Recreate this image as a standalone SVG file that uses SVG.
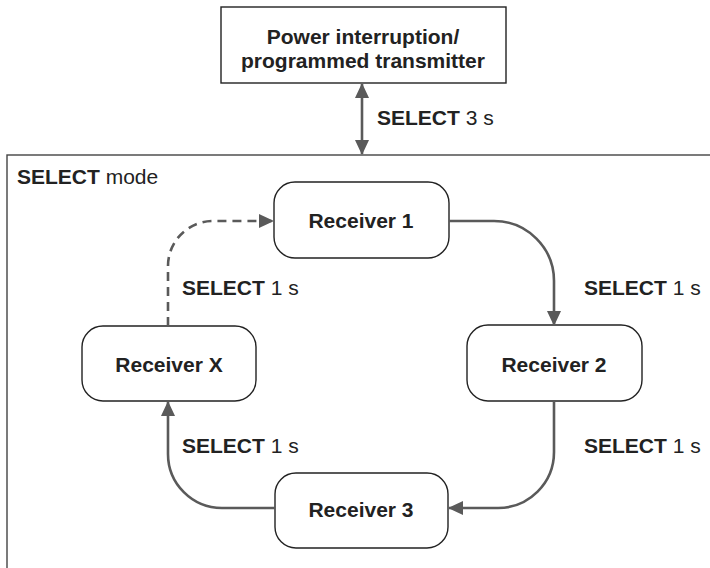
<svg xmlns="http://www.w3.org/2000/svg" width="710" height="568" viewBox="0 0 710 568">
<style>
.node{fill:#fff;stroke:#222;stroke-width:1.4}
.frame{fill:none;stroke:#444;stroke-width:1.4}
.t{font-family:"Liberation Sans",Arial,sans-serif;font-size:21px;fill:#222}
.b{font-weight:bold}
.c{text-anchor:middle}
.conn{fill:none;stroke:#5a5a5a;stroke-width:2.6}
.dash{stroke-dasharray:9 6}
</style>
<defs>
<marker id="ah" markerUnits="userSpaceOnUse" markerWidth="16" markerHeight="14" refX="14" refY="7" orient="auto-start-reverse">
<path d="M0,0 L15,7 L0,14 Z" fill="#5a5a5a"/>
</marker>
</defs>
<rect class="frame" x="7" y="155" width="720" height="430"/>
<text class="t" x="17" y="184"><tspan class="b">SELECT</tspan> mode</text>
<g id="top">
<rect class="node" x="221" y="7" width="285" height="76" rx="0"/>
<text class="t b c" x="363" y="44">Power interruption/</text>
<text class="t b c" x="363" y="68">programmed transmitter</text>
</g>
<g id="r1">
<rect class="node" x="274" y="182" width="175" height="76" rx="21"/>
<text class="t b c" x="361" y="228">Receiver 1</text>
</g>
<g id="r2">
<rect class="node" x="467" y="325" width="175" height="76" rx="21"/>
<text class="t b c" x="554" y="372">Receiver 2</text>
</g>
<g id="r3">
<rect class="node" x="275" y="473" width="173" height="75" rx="21"/>
<text class="t b c" x="361" y="517">Receiver 3</text>
</g>
<g id="rx">
<rect class="node" x="82" y="326" width="174" height="75" rx="21"/>
<text class="t b c" x="169" y="372">Receiver X</text>
</g>
<g id="connectors">
<path class="conn" d="M362,84 V154" marker-start="url(#ah)" marker-end="url(#ah)"/>
<path class="conn" d="M449,221 H494 A60,60 0 0 1 554,281 V325" marker-end="url(#ah)"/>
<path class="conn" d="M554,401 V452 A56,56 0 0 1 498,508 H449" marker-end="url(#ah)"/>
<path class="conn" d="M275,508 H222 A54,54 0 0 1 168,454 V402" marker-end="url(#ah)"/>
<path class="conn dash" d="M168,326 V266 A45,45 0 0 1 213,221 H273" marker-end="url(#ah)"/>
</g>
<g id="labels">
<text class="t" x="377" y="125"><tspan class="b">SELECT</tspan> 3 s</text>
<text class="t" x="182" y="295"><tspan class="b">SELECT</tspan> 1 s</text>
<text class="t" x="584" y="295"><tspan class="b">SELECT</tspan> 1 s</text>
<text class="t" x="182" y="453"><tspan class="b">SELECT</tspan> 1 s</text>
<text class="t" x="584" y="453"><tspan class="b">SELECT</tspan> 1 s</text>
</g>
</svg>
